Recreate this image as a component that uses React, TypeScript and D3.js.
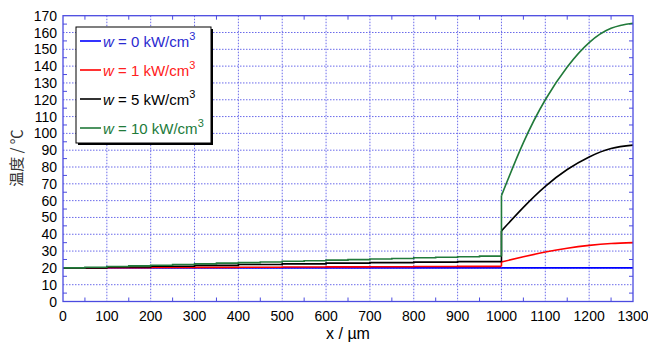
import React, { useEffect, useRef } from "react";
import * as d3 from "d3";

// step levels before x = 1000 (one value per 50 um interval)
const preX = [0, 50, 100, 150, 200, 250, 300, 350, 400, 450, 500, 550, 600, 650, 700, 750, 800, 850, 900, 950, 1000];
const preW0 = [20, 20, 20, 20, 20, 20, 20, 20, 20, 20, 20, 20, 20, 20, 20, 20, 20, 20, 20, 20, 20];
const preW1 = [20, 20, 20.1, 20.1, 20.2, 20.2, 20.3, 20.3, 20.4, 20.4, 20.5, 20.5, 20.6, 20.6, 20.7, 20.7, 20.8, 20.8, 20.9, 20.9, 20.9];
const preW5 = [20, 20, 20.5, 20.5, 21, 21, 21.5, 21.5, 22, 22, 22.4, 22.4, 22.8, 22.8, 23.1, 23.1, 23.4, 23.4, 23.7, 23.7, 23.7];
const preW10 = [20, 20.4, 20.8, 21.2, 21.6, 22.0, 22.4, 22.8, 23.1, 23.5, 23.9, 24.2, 24.6, 24.9, 25.3, 25.6, 26.0, 26.3, 26.6, 27.0, 27.0];

// curves after x = 1000
const postX = [1000, 1050, 1100, 1150, 1200, 1250, 1300];
const postW0 = [20, 20, 20, 20, 20, 20, 20];
const postW1 = [23.5, 26.6, 29.4, 31.7, 33.4, 34.5, 35];
const postW5 = [42, 56, 68.5, 78.5, 86, 91, 93];
const postW10 = [63, 94.5, 120, 139.5, 154, 162.5, 165.5];

const labels = ["0", "1", "5", "10"];
const colors = ["#0000ff", "#ff0000", "#000000", "#217a3a"];
const textColors = ["#2a2ad0", "#ff2020", "#000000", "#217a3a"];

const xTicks = [0, 100, 200, 300, 400, 500, 600, 700, 800, 900, 1000, 1100, 1200, 1300];
const yTicks = [0, 10, 20, 30, 40, 50, 60, 70, 80, 90, 100, 110, 120, 130, 140, 150, 160, 170];

export default function App() {
  const ref = useRef(null);

  useEffect(() => {
    const svg = d3.select(ref.current);
    svg.selectAll("*").remove();

    const left = 63;
    const right = 633;
    const top = 15.7;
    const bottom = 301.5;

    const x = d3.scaleLinear().domain([0, 1300]).range([left, right]);
    const y = d3.scaleLinear().domain([0, 170]).range([bottom, top]);
    const font = "'Liberation Sans', Arial, sans-serif";
    const axisColor = "#4b4be0";

    // grid
    const grid = svg.append("g");
    xTicks.slice(1, -1).forEach((t) => {
      grid
        .append("line")
        .attr("x1", x(t))
        .attr("x2", x(t))
        .attr("y1", top)
        .attr("y2", bottom)
        .attr("stroke", "#6a6aea")
        .attr("stroke-width", 1)
        .attr("stroke-dasharray", "1.5,1.5");
    });
    yTicks.slice(1, -1).forEach((t) => {
      grid
        .append("line")
        .attr("x1", left)
        .attr("x2", right)
        .attr("y1", y(t))
        .attr("y2", y(t))
        .attr("stroke", "#6a6aea")
        .attr("stroke-width", 1)
        .attr("stroke-dasharray", "1.5,1.5");
    });

    // minor ticks inward on all sides
    const ticks = svg.append("g").attr("stroke", axisColor).attr("stroke-width", 1);
    d3.range(0, 1301, 50).forEach((t) => {
      if (t % 100 === 0) return;
      ticks.append("line").attr("x1", x(t)).attr("x2", x(t)).attr("y1", bottom).attr("y2", bottom - 4);
      ticks.append("line").attr("x1", x(t)).attr("x2", x(t)).attr("y1", top).attr("y2", top + 4);
    });
    d3.range(0, 171, 5).forEach((t) => {
      if (t % 10 === 0) return;
      ticks.append("line").attr("x1", left).attr("x2", left + 4).attr("y1", y(t)).attr("y2", y(t));
      ticks.append("line").attr("x1", right).attr("x2", right - 4).attr("y1", y(t)).attr("y2", y(t));
    });

    // series
    const stepLine = d3
      .line()
      .x((d) => x(d[0]))
      .y((d) => y(d[1]))
      .curve(d3.curveStepAfter);
    const smoothLine = d3
      .line()
      .x((d) => x(d[0]))
      .y((d) => y(d[1]))
      .curve(d3.curveNatural);
    const straight = d3
      .line()
      .x((d) => x(d[0]))
      .y((d) => y(d[1]));

    const pre = [preW0, preW1, preW5, preW10];
    const post = [postW0, postW1, postW5, postW10];

    pre.forEach((vals, i) => {
      const g = svg.append("g").attr("fill", "none").attr("stroke", colors[i]).attr("stroke-width", 1.6);
      g.append("path").attr("d", stepLine(preX.map((px, j) => [px, vals[j]])));
      g.append("path").attr("d", straight([[1000, vals[vals.length - 1]], [1000, post[i][0]]]));
      g.append("path").attr("d", smoothLine(postX.map((px, j) => [px, post[i][j]])));
    });

    // frame
    svg
      .append("rect")
      .attr("x", left)
      .attr("y", top)
      .attr("width", right - left)
      .attr("height", bottom - top)
      .attr("fill", "none")
      .attr("stroke", axisColor)
      .attr("stroke-width", 1.3);

    // tick labels
    xTicks.forEach((t) => {
      svg
        .append("text")
        .attr("x", x(t))
        .attr("y", 321)
        .attr("text-anchor", "middle")
        .style("font-family", font)
        .style("font-size", "14px")
        .text(t);
    });
    yTicks.forEach((t) => {
      svg
        .append("text")
        .attr("x", 57)
        .attr("y", y(t) + 5)
        .attr("text-anchor", "end")
        .style("font-family", font)
        .style("font-size", "14px")
        .text(t);
    });

    svg
      .append("text")
      .attr("x", (left + right) / 2)
      .attr("y", 339)
      .attr("text-anchor", "middle")
      .style("font-family", font)
      .style("font-size", "16px")
      .text("x / µm");

    svg
      .append("text")
      .attr("transform", "translate(22,158) rotate(-90)")
      .attr("text-anchor", "middle")
      .attr("fill", "#333")
      .style("font-family", "'Noto Sans CJK JP', sans-serif")
      .style("font-size", "15px")
      .text("温度 / ℃");

    // legend
    const lx = 76;
    const ly = 27;
    const lw = 135;
    const lh = 116;
    svg.append("rect").attr("x", lx + 2).attr("y", ly + 2).attr("width", lw).attr("height", lh).attr("fill", "#000");
    svg
      .append("rect")
      .attr("x", lx)
      .attr("y", ly)
      .attr("width", lw)
      .attr("height", lh)
      .attr("fill", "#fff")
      .attr("stroke", "#000")
      .attr("stroke-width", 1);

    const itemY = [41, 70, 99, 128];
    labels.forEach((lab, i) => {
      svg
        .append("line")
        .attr("x1", 80)
        .attr("x2", 101)
        .attr("y1", itemY[i])
        .attr("y2", itemY[i])
        .attr("stroke", colors[i])
        .attr("stroke-width", 1.6);
      const t = svg
        .append("text")
        .attr("x", 103)
        .attr("y", itemY[i] + 6)
        .style("font-family", font)
        .style("font-size", "15px")
        .attr("fill", textColors[i]);
      t.append("tspan").style("font-style", "italic").text("w");
      t.append("tspan").text(` = ${lab} kW/cm`);
      t.append("tspan").attr("dy", -7).style("font-size", "11px").text("3");
    });
  }, []);

  return (
    <svg
      ref={ref}
      width={648}
      height={343}
      style={{ position: "absolute", left: 0, top: 0, background: "#fff" }}
    />
  );
}
